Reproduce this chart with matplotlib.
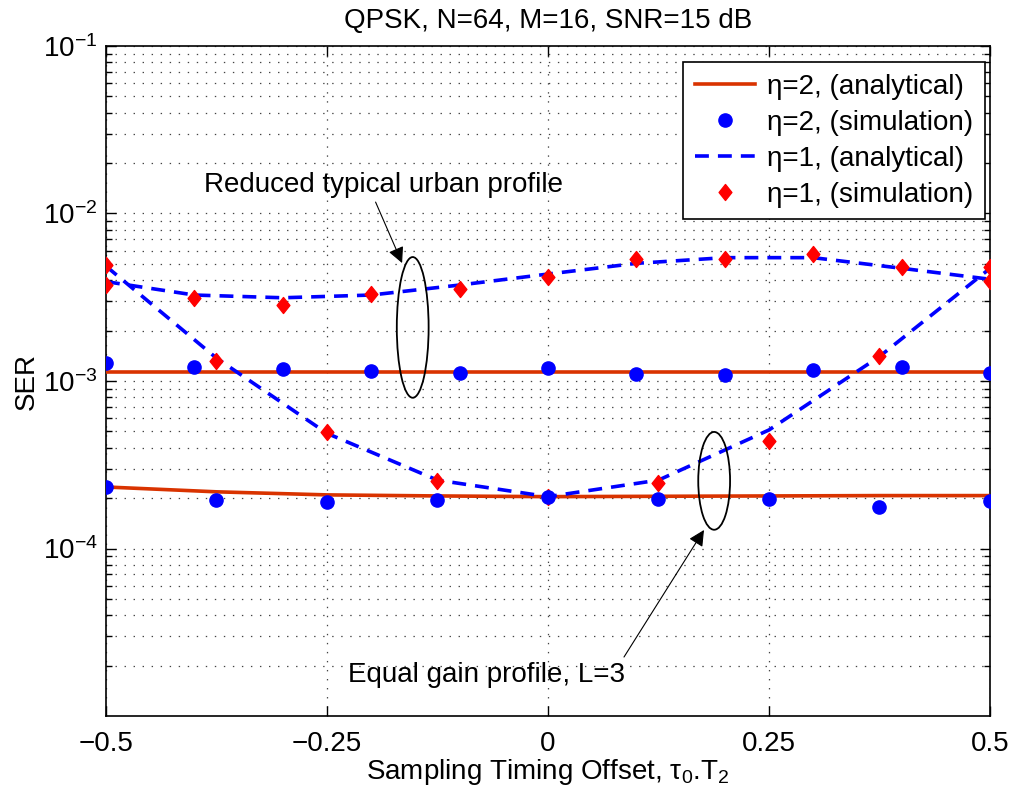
import matplotlib
matplotlib.use("Agg")
import matplotlib.pyplot as plt
from matplotlib.patches import Ellipse
from matplotlib.path import Path
from matplotlib.ticker import FixedLocator, FixedFormatter, LogLocator, NullFormatter

plt.rcParams['font.family'] = ['Liberation Sans', 'DejaVu Sans']
plt.rcParams['mathtext.fontset'] = 'custom'
plt.rcParams['mathtext.rm'] = 'Liberation Sans'
plt.rcParams['mathtext.it'] = 'Liberation Sans:italic'
plt.rcParams['lines.scale_dashes'] = False

# offsets for the reduced typical urban profile (step 0.1)
tau_tu = [-0.5, -0.4, -0.3, -0.2, -0.1, 0.0, 0.1, 0.2, 0.3, 0.4, 0.5]
# offsets for the equal gain profile (step 0.125)
tau_eg = [-0.5, -0.375, -0.25, -0.125, 0.0, 0.125, 0.25, 0.375, 0.5]

# eta = 2
ser2_tu_ana = [1.13e-3] * len(tau_tu)
ser2_tu_sim = [1.276e-3, 1.208e-3, 1.175e-3, 1.151e-3, 1.121e-3, 1.191e-3,
               1.096e-3, 1.086e-3, 1.164e-3, 1.213e-3, 1.112e-3]
ser2_eg_ana = [2.33e-4, 2.18e-4, 2.09e-4, 2.06e-4, 2.04e-4, 2.05e-4, 2.06e-4, 2.07e-4, 2.07e-4]
ser2_eg_sim = [2.32e-4, 1.95e-4, 1.90e-4, 1.95e-4, 2.04e-4, 1.98e-4, 1.98e-4, 1.78e-4, 1.93e-4]

# eta = 1
ser1_tu_ana = [3.92e-3, 3.26e-3, 3.14e-3, 3.26e-3, 3.74e-3, 4.35e-3,
               5.04e-3, 5.45e-3, 5.45e-3, 4.71e-3, 4.05e-3]
ser1_tu_sim = [3.74e-3, 3.14e-3, 2.84e-3, 3.30e-3, 3.54e-3, 4.19e-3,
               5.33e-3, 5.33e-3, 5.73e-3, 4.81e-3, 3.95e-3]
ser1_eg_ana = [4.85e-3, 1.37e-3, 4.87e-4, 2.56e-4, 2.04e-4, 2.56e-4, 5.1e-4, 1.40e-3, 4.7e-3]
ser1_eg_sim = [4.93e-3, 1.32e-3, 4.97e-4, 2.53e-4, 2.04e-4, 2.45e-4, 4.4e-4, 1.41e-3, 4.81e-3]

xticks = [-0.5, -0.25, 0, 0.25, 0.5]
xticklabels = ['\u22120.5', '\u22120.25', '0', '0.25', '0.5']
yticks = [1e-4, 1e-3, 1e-2, 1e-1]

red = '#d93300'
blue = '#0000ff'
fs = 20

# MATLAB-style diamond, a bit narrower than tall
diamond = Path([(0, 1), (0.8, 0), (0, -1), (-0.8, 0), (0, 1)],
               [Path.MOVETO, Path.LINETO, Path.LINETO, Path.LINETO, Path.CLOSEPOLY])

fig = plt.figure(figsize=(10.14, 7.97), dpi=100)
ax = fig.add_axes([0.1045, 0.1016, 0.8718, 0.8407])

# analytical curves
l_a2, = ax.semilogy(tau_tu, ser2_tu_ana, '-', color=red, lw=2.6, zorder=3)
ax.semilogy(tau_eg, ser2_eg_ana, '-', color=red, lw=2.6, zorder=3)
l_a1, = ax.semilogy(tau_tu, ser1_tu_ana, '--', color=blue, lw=2.6,
                    dashes=(10, 6.5), zorder=3)
ax.semilogy(tau_eg, ser1_eg_ana, '--', color=blue, lw=2.6,
            dashes=(10, 6.5), zorder=3)

# simulation points
l_s1, = ax.semilogy(tau_tu, ser1_tu_sim, marker=diamond, color='#ff0000', ms=11.5,
                    mec='#ff0000', ls='none', zorder=4)
ax.semilogy(tau_eg, ser1_eg_sim, marker=diamond, color='#ff0000', ms=11.5,
            mec='#ff0000', ls='none', zorder=4)
l_s2, = ax.semilogy(tau_tu, ser2_tu_sim, 'o', color=blue, ms=9.5,
                    mec=blue, ls='none', zorder=5)
ax.semilogy(tau_eg, ser2_eg_sim, 'o', color=blue, ms=9.5,
            mec=blue, ls='none', zorder=5)

ax.set_xlim(-0.5, 0.5)
ax.set_ylim(1e-5, 1e-1)
ax.xaxis.set_major_locator(FixedLocator(xticks))
ax.xaxis.set_major_formatter(FixedFormatter(xticklabels))
ax.yaxis.set_major_locator(FixedLocator(yticks))
ax.yaxis.set_minor_locator(LogLocator(base=10, subs=range(2, 10), numticks=20))
ax.yaxis.set_minor_formatter(NullFormatter())

ax.tick_params(which='both', direction='in', top=True, right=True, labelsize=fs, width=1)
ax.tick_params(which='major', length=7)
ax.tick_params(axis='x', which='major', pad=11)
ax.tick_params(axis='y', which='major', pad=6)
ax.tick_params(which='minor', length=4)
for s in ax.spines.values():
    s.set_linewidth(1.2)

ax.grid(True, which='major', ls=(0, (1, 5.5)), color='#444444', lw=0.9)
ax.grid(True, which='minor', axis='y', ls=(0, (1, 5.5)), color='#444444', lw=0.9)

ax.set_title('QPSK, N=64, M=16, SNR=15 dB', fontsize=fs, pad=13)
ax.set_xlabel('Sampling Timing Offset, \u03c4$_0$.T$_2$', fontsize=fs, labelpad=0)
ax.set_ylabel('SER', fontsize=fs, labelpad=2)

# profile markers
ax.add_patch(Ellipse((0.347, 0.580), 0.036, 0.210, transform=ax.transAxes,
                     fill=False, ec='k', lw=1.3, zorder=6))
ax.add_patch(Ellipse((0.688, 0.351), 0.036, 0.146, transform=ax.transAxes,
                     fill=False, ec='k', lw=1.3, zorder=6))

arrow = dict(arrowstyle='-|>', color='k', lw=0.8, mutation_scale=24, shrinkA=0, shrinkB=0)
ax.annotate('', xy=(-0.165, 5.06e-3), xytext=(-0.195, 1.17e-2), arrowprops=arrow, zorder=6)
ax.text(-0.389, 1.48e-2, 'Reduced typical urban profile', fontsize=fs, va='center', ha='left')
ax.annotate('', xy=(0.1765, 1.29e-4), xytext=(0.086, 2.25e-5), arrowprops=arrow, zorder=6)
ax.text(-0.226, 1.76e-5, 'Equal gain profile, L=3', fontsize=fs, va='center', ha='left')

leg = ax.legend([l_a2, l_s2, l_a1, l_s1],
                ['\u03b7=2, (analytical)', '\u03b7=2, (simulation)',
                 '\u03b7=1, (analytical)', '\u03b7=1, (simulation)'],
                loc='upper right', bbox_to_anchor=(0.9943, 0.976), borderaxespad=0,
                fontsize=fs, fancybox=False, framealpha=1, edgecolor='k',
                handlelength=2.15, handletextpad=0.45, labelspacing=0.36, borderpad=0.42)
leg.get_frame().set_linewidth(1.2)

fig.savefig('out.png', dpi=100)
